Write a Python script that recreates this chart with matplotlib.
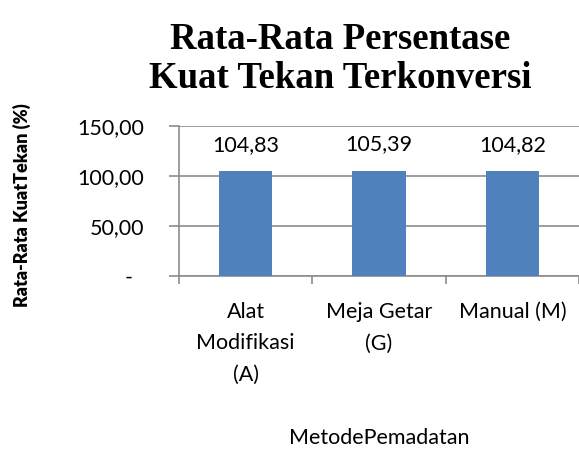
import matplotlib.pyplot as plt
import numpy as np

categories = ['Alat\nModifikasi\n(A)', 'Meja Getar\n(G)', 'Manual (M)']
values = [104.83, 105.39, 104.82]
labels = ['104,83', '105,39', '104,82']
yticks = [0, 50, 100, 150]
ytick_labels = ['-  ', '50,00', '100,00', '150,00']

sans = ['Lato', 'DejaVu Sans']
fig = plt.figure(figsize=(5.79, 4.5), dpi=100)
ax = fig.add_axes([0.309, 0.387, 0.691, 0.333])

x = np.arange(len(values))
ax.bar(x, values, width=0.4, color='#4F81BD', zorder=3)
for xi, v, t in zip(x, values, labels):
    ax.text(xi, v + 26, t, ha='center', va='center', fontsize=15.5, family=sans)

ax.set_xlim(-0.5, 2.5)
ax.set_ylim(0, 150)
ax.set_yticks(yticks)
ax.set_yticklabels(ytick_labels, family=sans, fontsize=15.5)
ax.yaxis.grid(True, color='#8c8c8c', linewidth=1.2, zorder=0)

ax.set_xticks([-0.5, 0.5, 1.5, 2.5])
ax.set_xticklabels([])
ax.set_xticks(x, minor=True)
ax.set_xticklabels(categories, minor=True, family=sans, fontsize=15.5, linespacing=1.7)
ax.tick_params(axis='x', which='minor', length=0, pad=19)
ax.tick_params(axis='x', which='major', length=6, color='#8c8c8c', width=1.2)
ax.tick_params(axis='y', length=7, color='#8c8c8c', width=1.2, pad=18)

for s in ['top', 'right']:
    ax.spines[s].set_visible(False)
for s in ['left', 'bottom']:
    ax.spines[s].set_color('#8c8c8c')
    ax.spines[s].set_linewidth(1.2)

ax.set_ylabel('Rata-Rata KuatTekan (%)', family=sans, fontsize=13, fontweight='heavy')
ax.yaxis.set_label_coords(-0.37, 0.47)
fig.text(0.655, 0.004, 'MetodePemadatan', ha='center', va='bottom', family=sans, fontsize=15.5)
fig.text(0.587, 0.952, 'Rata-Rata Persentase\nKuat Tekan Terkonversi', ha='center', va='top',
         family='Liberation Serif', fontweight='bold', fontsize=26.5, linespacing=1.15)

fig.savefig('out.png', dpi=100)
